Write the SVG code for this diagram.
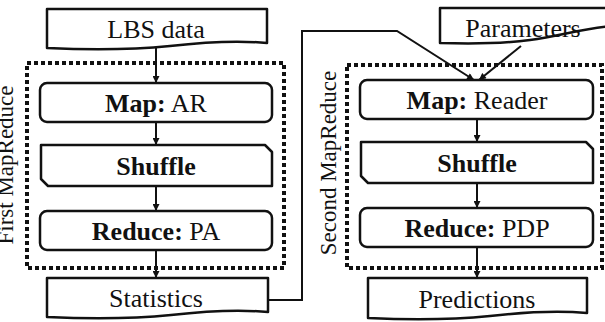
<svg xmlns="http://www.w3.org/2000/svg" width="605" height="322" viewBox="0 0 605 322">
  <style>
    .box { fill: #fff; stroke: #111; stroke-width: 2.5; stroke-linejoin: round; }
    .group { fill: none; stroke: #111; stroke-width: 4; stroke-dasharray: 4 3; }
    .lbl { font-size: 26px; fill: #111; text-anchor: middle; }
    .b { font-weight: bold; }
    .side { font-size: 23px; fill: #111; text-anchor: middle; }
    .wire { fill: none; stroke: #111; stroke-width: 2; }
  </style>
  <defs>
    <marker id="ah" viewBox="0 0 10 10" refX="10" refY="5" markerWidth="8" markerHeight="7" markerUnits="userSpaceOnUse" orient="auto">
      <path d="M0,0 L10,5 L0,10 z" fill="#111"/>
    </marker>
  </defs>
  <rect width="605" height="322" fill="#fff"/>

  <g font-family="'Liberation Serif', 'Times New Roman', serif">
  <!-- job containers -->
  <g id="first-mapreduce">
    <rect class="group" x="27" y="63" width="257" height="205"/>
    <text class="side" transform="translate(13,165) rotate(-90)">First MapReduce</text>
  </g>
  <g id="second-mapreduce">
    <rect class="group" x="347" y="65" width="255" height="203"/>
    <text class="side" transform="translate(336,163) rotate(-90)">Second MapReduce</text>
  </g>

  <!-- connectors -->
  <g id="connectors">
    <line class="wire" x1="156" y1="47" x2="156" y2="83" marker-end="url(#ah)"/>
    <line class="wire" x1="156" y1="122" x2="156" y2="145" marker-end="url(#ah)"/>
    <line class="wire" x1="156" y1="186" x2="156" y2="211" marker-end="url(#ah)"/>
    <line class="wire" x1="156" y1="250" x2="156" y2="278" marker-end="url(#ah)"/>
    <polyline class="wire" points="268,300 302,300 302,31 397,31 474,80" marker-end="url(#ah)"/>
    <line class="wire" x1="521" y1="46" x2="479" y2="80" marker-end="url(#ah)"/>
    <line class="wire" x1="477" y1="119" x2="477" y2="142" marker-end="url(#ah)"/>
    <line class="wire" x1="477" y1="183" x2="477" y2="208" marker-end="url(#ah)"/>
    <line class="wire" x1="477" y1="247" x2="477" y2="278" marker-end="url(#ah)"/>
  </g>

  <!-- first job -->
  <g id="lbs-data">
    <path class="box" d="M47,9 H267 V43 C235,40 205,42 170,46 C130,50 90,50 47,48 Z"/>
    <text class="lbl" x="156" y="38">LBS data</text>
  </g>
  <g id="map-ar">
    <rect class="box" x="40" y="83" width="232" height="39" rx="7"/>
    <text class="lbl" x="156" y="112"><tspan class="b">Map:</tspan> AR</text>
  </g>
  <g id="shuffle-1">
    <path class="box" d="M41,145 H265 L272,152 V186 H48 L41,179 Z"/>
    <text class="lbl b" x="156" y="175">Shuffle</text>
  </g>
  <g id="reduce-pa">
    <rect class="box" x="40" y="211" width="232" height="39" rx="7"/>
    <text class="lbl" x="156" y="240"><tspan class="b">Reduce:</tspan> PA</text>
  </g>
  <g id="statistics">
    <path class="box" d="M47,278 H268 V312 C236,309 206,311 171,315 C131,319 91,319 47,317 Z"/>
    <text class="lbl" x="156" y="307">Statistics</text>
  </g>

  <!-- second job -->
  <g id="parameters">
    <path class="box" d="M440,8 H612 V26 C585,28 560,36 530,40 C500,44 470,44 440,43 Z"/>
    <text class="lbl" x="523" y="37">Parameters</text>
  </g>
  <g id="map-reader">
    <rect class="box" x="360" y="80" width="233" height="39" rx="7"/>
    <text class="lbl" x="477" y="109"><tspan class="b">Map:</tspan> Reader</text>
  </g>
  <g id="shuffle-2">
    <path class="box" d="M361,142 H586 L593,149 V183 H368 L361,176 Z"/>
    <text class="lbl b" x="477" y="172">Shuffle</text>
  </g>
  <g id="reduce-pdp">
    <rect class="box" x="360" y="208" width="233" height="39" rx="7"/>
    <text class="lbl" x="477" y="237"><tspan class="b">Reduce:</tspan> PDP</text>
  </g>
  <g id="predictions">
    <path class="box" d="M368,278 H587 V313 C555,310 525,312 490,316 C450,320 410,320 368,318 Z"/>
    <text class="lbl" x="477" y="308">Predictions</text>
  </g>
  </g>
</svg>
